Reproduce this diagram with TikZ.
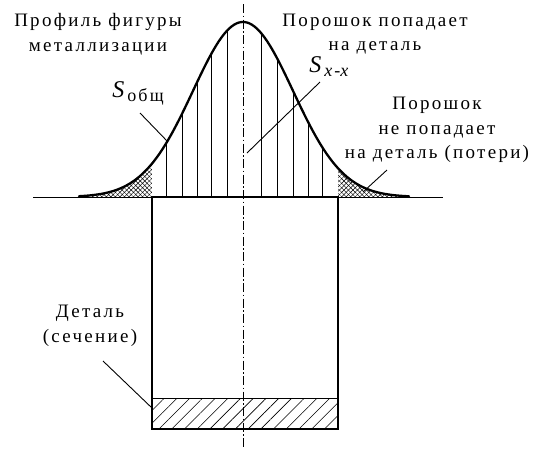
\documentclass[tikz,border=0pt]{standalone}
\usepackage{fontspec}
\setmainfont{Liberation Serif}[LetterSpace=12]
\usetikzlibrary{patterns.meta}
\begin{document}
\begin{tikzpicture}[x=1pt,y=-1pt,
  declare function={gy(\t)=197-175*exp(-0.5*((\t-243)/50)^2);},
  lbl/.style={font=\fontsize{19}{24.5}\selectfont, align=center, inner sep=0pt},
  curveline/.style={line width=2.3pt, line cap=round},
  thinline/.style={line width=0.9pt},
  axisline/.style={line width=0.9pt, dash pattern=on 9pt off 2.5pt on 1.5pt off 2.5pt},
  leader/.style={line width=0.9pt},
  xhatchA/.style={pattern={Lines[angle=45,distance=3.2pt,line width=0.45pt]}},
  xhatchB/.style={pattern={Lines[angle=-45,distance=3.2pt,line width=0.45pt]}},
  dhatch/.style={pattern={Lines[angle=45,distance=9pt,line width=0.6pt]}}
]
\useasboundingbox (0,0) rectangle (541,448);
% tails cross-hatched
\foreach \st in {xhatchA,xhatchB}{
  \fill[\st] (79,197) -- plot[domain=79:152,samples=40] (\x,{gy(\x)}) -- (152,197) -- cycle;
  \fill[\st] (338,197) -- plot[domain=338:409,samples=40] (\x,{gy(\x)}) -- (409,197) -- cycle;
}
% vertical hatch lines
\foreach \x in {166.7,182.3,197.3,211.7,227.3,261.7,277.3,293.3,308.3,322.7}{
  \draw[thinline] (\x,197) -- (\x,{gy(\x)});
}
% detail hatched section
\fill[dhatch] (152,398) rectangle (338,429);
% baseline
\coordinate (bl) at (33,197);
\coordinate (br) at (443,197);
\draw[thinline] (bl) -- (br);
% detail rectangle
\coordinate (rtl) at (152,197);
\coordinate (rbr) at (338,429);
\coordinate (hl) at (152,398);
\coordinate (hr) at (338,398);
\draw[line width=1.1pt] (rtl) rectangle (rbr);
\draw[thinline] (hl) -- (hr);
% gaussian profile
\draw[curveline] plot[domain=79:409,samples=150] (\x,{gy(\x)});
% axis
\coordinate (at) at (243,4);
\coordinate (ab) at (243,448);
\draw[axisline] (at) -- (ab);
% labels
\node[lbl] (prof) at (98,34) {Профиль фигуры\\металлизации};
\node[lbl] (pop) at (375,34) {Порошок попадает\\на деталь};
\node[lbl] (nepop) at (437,130) {Порошок\\не попадает\\на деталь (потери)};
\node[lbl] (det) at (90,326) {Деталь\\(сечение)};
\node[inner sep=0pt, font=\fontsize{24}{24}\selectfont] (sob) at (138,93)
  {\textit{S}\raisebox{-4pt}{\fontsize{18}{18}\selectfont общ}};
\node[inner sep=0pt, font=\fontsize{24}{24}\selectfont] (sxx) at (330,67)
  {\textit{S}\raisebox{-4pt}{\fontsize{18}{18}\selectfont\textit{x}-\textit{x}}};
% leaders
\coordinate (sobA) at (140,113);
\coordinate (sobB) at (168,142);
\draw[leader] (sobA) -- (sobB);
\coordinate (sxxA) at (320,82);
\coordinate (sxxB) at (247,153);
\draw[leader] (sxxA) -- (sxxB);
\coordinate (npA) at (387,170);
\coordinate (npB) at (363,192);
\draw[leader] (npA) -- (npB);
\coordinate (detA) at (103,361);
\coordinate (detB) at (152,408);
\draw[leader] (detA) -- (detB);
\end{tikzpicture}
\end{document}
